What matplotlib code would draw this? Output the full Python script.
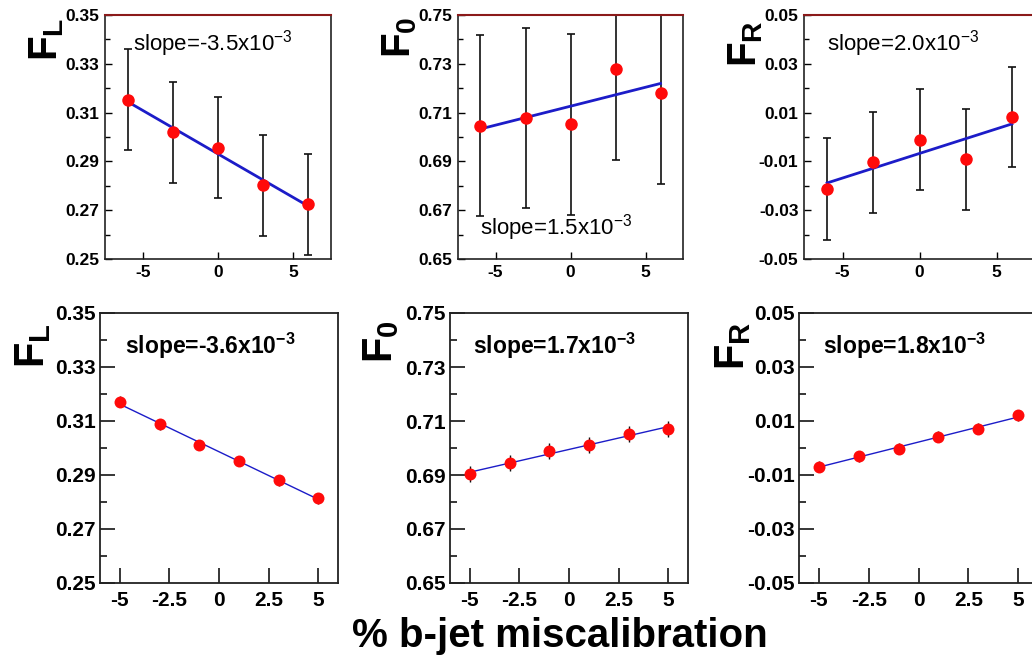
import numpy as np
import matplotlib
matplotlib.use('Agg')
import matplotlib.pyplot as plt

plt.rcParams['font.family'] = ['Liberation Sans', 'DejaVu Sans']
plt.rcParams['mathtext.fontset'] = 'custom'
plt.rcParams['mathtext.rm'] = 'Liberation Sans'
plt.rcParams['mathtext.bf'] = 'Liberation Sans:bold'
plt.rcParams['mathtext.it'] = 'Liberation Sans:italic'

# top row: pseudo-experiments, 5 points with errors
x_top = [-6, -3, 0, 3, 6]
fl_top = [0.3152, 0.3019, 0.2955, 0.2802, 0.2725]
fl_top_err = [0.0207, 0.0207, 0.0207, 0.0207, 0.0207]
f0_top = [0.7046, 0.7077, 0.7052, 0.7277, 0.7179]
f0_top_err = [0.037, 0.037, 0.037, 0.037, 0.037]
fr_top = [-0.0213, -0.0104, -0.0012, -0.0091, 0.0083]
fr_top_err = [0.0208, 0.0207, 0.0207, 0.0207, 0.0205]

# bottom row: 6 points, tiny errors
x_bot = [-5, -3, -1, 1, 3, 5]
fl_bot = [0.3171, 0.3088, 0.3011, 0.2952, 0.2881, 0.2814]
fl_bot_err = [0.002, 0.002, 0.002, 0.002, 0.002, 0.002]
f0_bot = [0.6903, 0.6943, 0.6990, 0.7011, 0.7051, 0.7070]
f0_bot_err = [0.003, 0.003, 0.003, 0.003, 0.003, 0.003]
fr_bot = [-0.0069, -0.0030, -0.0003, 0.0042, 0.0071, 0.0121]
fr_bot_err = [0.002, 0.002, 0.002, 0.002, 0.002, 0.002]

slopes_top = ['-3.5', '1.5', '2.0']
slopes_bot = ['-3.6', '1.7', '1.8']

yticks_fl = [0.25, 0.27, 0.29, 0.31, 0.33, 0.35]
yticks_f0 = [0.65, 0.67, 0.69, 0.71, 0.73, 0.75]
yticks_fr = [-0.05, -0.03, -0.01, 0.01, 0.03, 0.05]
xticks_top = [-5, 0, 5]
xticks_bot = [-5, -2.5, 0, 2.5, 5]
xticklabels_bot = ['-5', '-2.5', '0', '2.5', '5']

W, H = 1032, 659
fig = plt.figure(figsize=(W / 100, H / 100), dpi=100)


def px_axes(left, right, top, bottom):
    return fig.add_axes([left / W, 1 - bottom / H, (right - left) / W, (bottom - top) / H])


def style(ax, yticks, xticks, xlabels, top_row):
    ax.set_yticks(yticks)
    ax.set_yticklabels(['%.2f' % v for v in yticks])
    ax.set_yticks(np.arange(yticks[0], yticks[-1] + 0.001, 0.01), minor=True)
    ax.set_ylim(yticks[0], yticks[-1])
    ax.set_xticks(xticks)
    ax.set_xticklabels(xlabels)
    if top_row:
        ax.tick_params(axis='both', which='major', direction='in', length=5,
                       width=1, labelsize=12.5, pad=4, top=False, right=False)
        ax.tick_params(axis='y', which='minor', direction='in', length=3.5, width=1,
                       right=False)
        for s in ax.spines.values():
            s.set_linewidth(1.2)
            s.set_color('#222222')
        ax.spines['top'].set_color('#8b1a1a')
        ax.spines['top'].set_linewidth(1.5)
    else:
        ax.tick_params(axis='both', which='major', direction='in', length=10.5,
                       width=1.1, labelsize=15, pad=3, top=False, right=False)
        ax.tick_params(axis='x', pad=6)
        ax.tick_params(axis='y', which='minor', direction='in', length=5, width=1.1,
                       right=False)
        for s in ax.spines.values():
            s.set_linewidth(1.3)
            s.set_color('#222222')
    for lab in ax.get_xticklabels() + ax.get_yticklabels():
        lab.set_fontweight('bold')


def draw(ax, x, y, err, lw_fit, lw_err, cap, ms):
    x = np.array(x)
    k, b = np.polyfit(x, y, 1)
    xf = np.array([x.min(), x.max()])
    ax.plot(xf, k * xf + b, color='#1c1cc8', lw=lw_fit, zorder=2)
    ax.errorbar(x, y, yerr=err, fmt='none', ecolor='#111111', elinewidth=lw_err,
                capsize=cap, capthick=lw_err, zorder=1)
    ax.plot(x, y, 'o', color='#ff0a0a', ms=ms, mec='none', zorder=3)


top_boxes = [(105, 331), (458, 683), (804, 1035)]
bot_boxes = [(100, 338), (450, 688), (799, 1038)]
top_data = [(fl_top, fl_top_err, yticks_fl), (f0_top, f0_top_err, yticks_f0),
            (fr_top, fr_top_err, yticks_fr)]
bot_data = [(fl_bot, fl_bot_err, yticks_fl), (f0_bot, f0_bot_err, yticks_f0),
            (fr_bot, fr_bot_err, yticks_fr)]
names = ['L', '0', 'R']

top_label_pos = [(47, 39), (400, 37), (746, 44)]
bot_label_pos = [(33, 346), (381, 342), (733, 346)]
top_slope_pos = [(133, 44), (480, 228), (827, 44)]
bot_slope_pos = [(125, 346), (473, 346), (823, 346)]

for i in range(3):
    ax = px_axes(top_boxes[i][0], top_boxes[i][1], 15, 259)
    y, e, yt = top_data[i]
    draw(ax, x_top, y, e, 2.0, 1.2, 3, 9)
    ax.set_xlim(-7.5, 7.5)
    style(ax, yt, xticks_top, [str(t) for t in xticks_top], True)
    fig.text(top_label_pos[i][0] / W, 1 - top_label_pos[i][1] / H,
             r'$\mathbf{F_%s}$' % names[i], rotation=90, ha='center', va='center',
             fontsize=29)
    fig.text(top_slope_pos[i][0] / W, 1 - top_slope_pos[i][1] / H,
             'slope=%sx10$^{-3}$' % slopes_top[i], ha='left', va='center',
             fontsize=16)

    ax = px_axes(bot_boxes[i][0], bot_boxes[i][1], 313, 583)
    y, e, yt = bot_data[i]
    draw(ax, x_bot, y, e, 1.0, 1.0, 0, 8.6)
    ax.set_xlim(-6, 6)
    style(ax, yt, xticks_bot, xticklabels_bot, False)
    fig.text(bot_label_pos[i][0] / W, 1 - bot_label_pos[i][1] / H,
             r'$\mathbf{F_%s}$' % names[i], rotation=90, ha='center', va='center',
             fontsize=30)
    fig.text(bot_slope_pos[i][0] / W, 1 - bot_slope_pos[i][1] / H,
             r'slope=%sx10$^{\mathbf{-3}}$' % slopes_bot[i], ha='left', va='center',
             fontsize=16.5, fontweight='bold')

fig.text(560 / W, 1 - 636 / H, '% b-jet miscalibration', ha='center', va='center',
         fontsize=29, fontweight='bold')

fig.savefig('out.png', dpi=100)
